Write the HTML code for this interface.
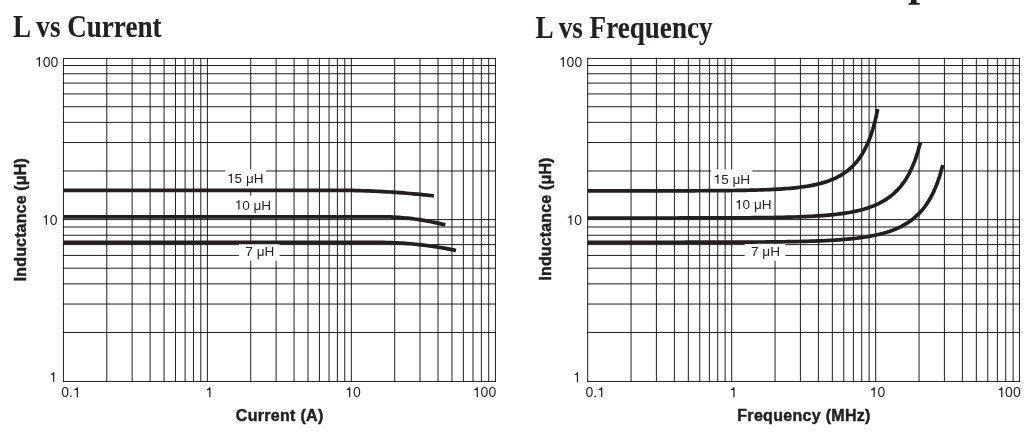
<!DOCTYPE html>
<html><head><meta charset="utf-8"><style>
html,body{margin:0;padding:0;background:#fff;width:1033px;height:447px;overflow:hidden}
svg{position:absolute;left:0;top:0;display:block}
text{fill:#231f20}
</style></head><body>
<svg width="1033" height="447" viewBox="0 0 1033 447">
<path d="M63.45 381.45H495.3 M63.45 332.48H495.3 M63.45 304.04H495.3 M63.45 283.87H495.3 M63.45 268.22H495.3 M63.45 255.43H495.3 M63.45 244.62H495.3 M63.45 235.25H495.3 M63.45 226.99H495.3 M63.45 219.6H495.3 M63.45 170.98H495.3 M63.45 142.54H495.3 M63.45 122.37H495.3 M63.45 106.72H495.3 M63.45 93.93H495.3 M63.45 83.12H495.3 M63.45 73.75H495.3 M63.45 65.49H495.3 M63.45 58.45H495.3" stroke="#231f20" stroke-width="1.0" fill="none" stroke-linecap="square"/><path d="M63.45 58.45V381.45 M106.78 58.45V381.45 M132.13 58.45V381.45 M150.12 58.45V381.45 M164.07 58.45V381.45 M175.46 58.45V381.45 M185.1 58.45V381.45 M193.45 58.45V381.45 M200.81 58.45V381.45 M207.4 58.45V381.45 M250.73 58.45V381.45 M276.08 58.45V381.45 M294.07 58.45V381.45 M308.02 58.45V381.45 M319.41 58.45V381.45 M329.05 58.45V381.45 M337.4 58.45V381.45 M344.76 58.45V381.45 M351.35 58.45V381.45 M394.68 58.45V381.45 M420.03 58.45V381.45 M438.02 58.45V381.45 M451.97 58.45V381.45 M463.36 58.45V381.45 M473 58.45V381.45 M481.35 58.45V381.45 M488.71 58.45V381.45 M495.45 58.45V381.45" stroke="#231f20" stroke-width="1.0" fill="none" stroke-linecap="square" style="mix-blend-mode:multiply"/>
<path d="M587.7 381.45H1019.7 M587.7 332.48H1019.7 M587.7 304.04H1019.7 M587.7 283.87H1019.7 M587.7 268.22H1019.7 M587.7 255.43H1019.7 M587.7 244.62H1019.7 M587.7 235.25H1019.7 M587.7 226.99H1019.7 M587.7 219.6H1019.7 M587.7 170.98H1019.7 M587.7 142.54H1019.7 M587.7 122.37H1019.7 M587.7 106.72H1019.7 M587.7 93.93H1019.7 M587.7 83.12H1019.7 M587.7 73.75H1019.7 M587.7 65.49H1019.7 M587.7 58.45H1019.7" stroke="#231f20" stroke-width="1.0" fill="none" stroke-linecap="square"/><path d="M587.7 58.45V381.45 M631.05 58.45V381.45 M656.41 58.45V381.45 M674.4 58.45V381.45 M688.35 58.45V381.45 M699.75 58.45V381.45 M709.39 58.45V381.45 M717.74 58.45V381.45 M725.11 58.45V381.45 M731.7 58.45V381.45 M775.05 58.45V381.45 M800.41 58.45V381.45 M818.4 58.45V381.45 M832.35 58.45V381.45 M843.75 58.45V381.45 M853.39 58.45V381.45 M861.74 58.45V381.45 M869.11 58.45V381.45 M875.7 58.45V381.45 M919.05 58.45V381.45 M944.41 58.45V381.45 M962.4 58.45V381.45 M976.35 58.45V381.45 M987.75 58.45V381.45 M997.39 58.45V381.45 M1005.74 58.45V381.45 M1013.11 58.45V381.45 M1019.45 58.45V381.45" stroke="#231f20" stroke-width="1.0" fill="none" stroke-linecap="square" style="mix-blend-mode:multiply"/>
<rect x="224.9" y="169.5" width="41.3" height="19" fill="#fff"/>
<rect x="232" y="195.7" width="42" height="19.3" fill="#fff"/>
<rect x="238.8" y="244" width="40.7" height="16.8" fill="#fff"/>
<rect x="711" y="169.5" width="41.3" height="19.5" fill="#fff"/>
<rect x="732.5" y="195.7" width="41.3" height="20.3" fill="#fff"/>
<rect x="744.6" y="244.1" width="40.8" height="16.6" fill="#fff"/>
<path d="M63.45 190.3 L335.2 190.3 L338.6 190.31 L342.01 190.33 L345.41 190.36 L348.81 190.41 L352.22 190.47 L355.62 190.54 L359.02 190.63 L362.43 190.73 L365.83 190.84 L369.23 190.97 L372.64 191.11 L376.04 191.26 L379.44 191.43 L382.85 191.61 L386.25 191.8 L389.66 192.01 L393.06 192.22 L396.46 192.46 L399.87 192.7 L403.27 192.96 L406.67 193.24 L410.08 193.52 L413.48 193.82 L416.88 194.14 L420.29 194.46 L423.69 194.8 L427.09 195.16 L430.5 195.52 L433.9 195.9" stroke="#231f20" stroke-width="3.7" fill="none" stroke-linejoin="round"/>
<path d="M63.45 216.8 L381.4 216.8 L383.6 216.81 L385.81 216.84 L388.01 216.89 L390.21 216.96 L392.42 217.04 L394.62 217.15 L396.82 217.28 L399.03 217.42 L401.23 217.59 L403.43 217.77 L405.64 217.97 L407.84 218.2 L410.04 218.44 L412.25 218.7 L414.45 218.98 L416.66 219.29 L418.86 219.61 L421.06 219.95 L423.27 220.31 L425.47 220.68 L427.67 221.08 L429.88 221.5 L432.08 221.94 L434.28 222.39 L436.49 222.87 L438.69 223.36 L440.89 223.88 L443.1 224.41 L445.3 224.97" stroke="#231f20" stroke-width="3.7" fill="none" stroke-linejoin="round"/>
<path d="M63.45 242.4 L378.2 242.4 L380.88 242.41 L383.57 242.44 L386.25 242.49 L388.93 242.55 L391.61 242.64 L394.3 242.74 L396.98 242.87 L399.66 243.01 L402.34 243.18 L405.03 243.36 L407.71 243.56 L410.39 243.78 L413.08 244.02 L415.76 244.28 L418.44 244.55 L421.12 244.85 L423.81 245.17 L426.49 245.5 L429.17 245.86 L431.86 246.23 L434.54 246.62 L437.22 247.03 L439.9 247.46 L442.59 247.91 L445.27 248.38 L447.95 248.87 L450.63 249.38 L453.32 249.9 L456 250.45" stroke="#231f20" stroke-width="3.7" fill="none" stroke-linejoin="round"/>
<path d="M587.7 190.88 L590.14 190.88 L592.57 190.88 L595.01 190.88 L597.45 190.88 L599.88 190.88 L602.32 190.88 L604.76 190.88 L607.2 190.88 L609.63 190.88 L612.07 190.87 L614.51 190.87 L616.94 190.87 L619.38 190.87 L621.82 190.87 L624.25 190.87 L626.69 190.87 L629.13 190.87 L631.57 190.87 L634 190.87 L636.44 190.87 L638.88 190.87 L641.31 190.86 L643.75 190.86 L646.19 190.86 L648.62 190.86 L651.06 190.86 L653.5 190.86 L655.94 190.85 L658.37 190.85 L660.81 190.85 L663.25 190.85 L665.68 190.84 L668.12 190.84 L670.56 190.84 L672.99 190.83 L675.43 190.83 L677.87 190.82 L680.31 190.82 L682.74 190.81 L685.18 190.81 L687.62 190.8 L690.05 190.79 L692.49 190.79 L694.93 190.78 L697.36 190.77 L699.8 190.76 L702.24 190.75 L704.67 190.74 L707.11 190.72 L709.55 190.71 L711.99 190.7 L714.42 190.68 L716.86 190.66 L719.3 190.64 L721.73 190.62 L724.17 190.6 L726.61 190.58 L729.04 190.55 L731.48 190.52 L733.92 190.49 L736.36 190.46 L738.79 190.42 L741.23 190.39 L743.67 190.34 L746.1 190.3 L748.54 190.25 L750.98 190.19 L753.41 190.13 L755.85 190.07 L758.29 190 L760.73 189.92 L763.16 189.84 L765.6 189.75 L768.04 189.65 L770.47 189.55 L772.91 189.43 L775.35 189.31 L777.78 189.17 L780.22 189.03 L782.66 188.87 L785.09 188.69 L787.53 188.5 L789.97 188.3 L792.41 188.07 L794.84 187.82 L797.28 187.56 L799.72 187.27 L802.15 186.95 L804.59 186.6 L807.03 186.23 L809.46 185.82 L811.9 185.37 L814.34 184.88 L816.78 184.34 L819.21 183.75 L821.65 183.11 L824.09 182.4 L826.52 181.63 L828.96 180.78 L831.4 179.85 L833.83 178.83 L836.27 177.7 L838.71 176.45 L841.15 175.07 L843.58 173.54 L846.02 171.84 L848.46 169.95 L850.89 167.84 L853.33 165.47 L855.77 162.81 L858.2 159.8 L860.64 156.39 L863.08 152.48 L865.52 147.98 L867.95 142.74 L870.39 136.58 L872.83 129.22 L875.26 120.24 L877.7 108.99" stroke="#231f20" stroke-width="3.7" fill="none" stroke-linejoin="round"/>
<path d="M587.7 218 L590.5 218 L593.29 218 L596.09 218 L598.89 218 L601.68 218 L604.48 218 L607.28 218 L610.07 218 L612.87 218 L615.67 218 L618.46 218 L621.26 218 L624.06 218 L626.85 218 L629.65 218 L632.45 218 L635.24 218 L638.04 218 L640.84 218 L643.63 217.99 L646.43 217.99 L649.23 217.99 L652.02 217.99 L654.82 217.99 L657.62 217.99 L660.41 217.99 L663.21 217.99 L666.01 217.98 L668.8 217.98 L671.6 217.98 L674.4 217.98 L677.19 217.98 L679.99 217.97 L682.79 217.97 L685.58 217.97 L688.38 217.96 L691.18 217.96 L693.97 217.96 L696.77 217.95 L699.57 217.95 L702.36 217.94 L705.16 217.94 L707.96 217.93 L710.75 217.93 L713.55 217.92 L716.35 217.91 L719.14 217.9 L721.94 217.89 L724.74 217.88 L727.53 217.87 L730.33 217.86 L733.13 217.85 L735.92 217.83 L738.72 217.82 L741.52 217.8 L744.31 217.78 L747.11 217.77 L749.91 217.74 L752.7 217.72 L755.5 217.7 L758.29 217.67 L761.09 217.64 L763.89 217.61 L766.68 217.57 L769.48 217.53 L772.28 217.49 L775.07 217.44 L777.87 217.39 L780.67 217.34 L783.46 217.28 L786.26 217.21 L789.06 217.14 L791.85 217.07 L794.65 216.98 L797.45 216.89 L800.24 216.79 L803.04 216.68 L805.84 216.56 L808.63 216.44 L811.43 216.29 L814.23 216.14 L817.02 215.97 L819.82 215.79 L822.62 215.59 L825.41 215.37 L828.21 215.13 L831.01 214.87 L833.8 214.59 L836.6 214.28 L839.4 213.94 L842.19 213.57 L844.99 213.16 L847.79 212.71 L850.58 212.22 L853.38 211.68 L856.18 211.1 L858.97 210.45 L861.77 209.74 L864.57 208.96 L867.36 208.09 L870.16 207.14 L872.96 206.09 L875.75 204.93 L878.55 203.65 L881.35 202.22 L884.14 200.63 L886.94 198.86 L889.74 196.88 L892.53 194.66 L895.33 192.16 L898.13 189.33 L900.92 186.12 L903.72 182.45 L906.52 178.21 L909.31 173.3 L912.11 167.52 L914.91 160.63 L917.7 152.28 L920.5 141.9" stroke="#231f20" stroke-width="3.7" fill="none" stroke-linejoin="round"/>
<path d="M587.7 242.25 L590.68 242.25 L593.67 242.25 L596.65 242.25 L599.64 242.25 L602.62 242.25 L605.6 242.25 L608.59 242.25 L611.57 242.25 L614.56 242.25 L617.54 242.25 L620.52 242.25 L623.51 242.25 L626.49 242.25 L629.48 242.25 L632.46 242.25 L635.44 242.25 L638.43 242.24 L641.41 242.24 L644.4 242.24 L647.38 242.24 L650.36 242.24 L653.35 242.24 L656.33 242.24 L659.32 242.24 L662.3 242.24 L665.28 242.24 L668.27 242.23 L671.25 242.23 L674.24 242.23 L677.22 242.23 L680.21 242.23 L683.19 242.23 L686.17 242.22 L689.16 242.22 L692.14 242.22 L695.13 242.21 L698.11 242.21 L701.09 242.21 L704.08 242.2 L707.06 242.2 L710.05 242.19 L713.03 242.19 L716.01 242.18 L719 242.18 L721.98 242.17 L724.97 242.16 L727.95 242.16 L730.93 242.15 L733.92 242.14 L736.9 242.13 L739.89 242.12 L742.87 242.1 L745.85 242.09 L748.84 242.08 L751.82 242.06 L754.81 242.04 L757.79 242.02 L760.77 242 L763.76 241.98 L766.74 241.96 L769.73 241.93 L772.71 241.9 L775.69 241.87 L778.68 241.84 L781.66 241.8 L784.65 241.76 L787.63 241.71 L790.61 241.66 L793.6 241.61 L796.58 241.55 L799.57 241.49 L802.55 241.42 L805.53 241.35 L808.52 241.26 L811.5 241.17 L814.49 241.08 L817.47 240.97 L820.45 240.85 L823.44 240.73 L826.42 240.59 L829.41 240.44 L832.39 240.27 L835.37 240.09 L838.36 239.9 L841.34 239.68 L844.33 239.45 L847.31 239.19 L850.29 238.91 L853.28 238.6 L856.26 238.26 L859.25 237.89 L862.23 237.49 L865.22 237.04 L868.2 236.56 L871.18 236.02 L874.17 235.44 L877.15 234.79 L880.14 234.08 L883.12 233.3 L886.1 232.44 L889.09 231.49 L892.07 230.44 L895.06 229.27 L898.04 227.98 L901.02 226.55 L904.01 224.95 L906.99 223.17 L909.98 221.18 L912.96 218.94 L915.94 216.41 L918.93 213.55 L921.91 210.3 L924.9 206.57 L927.88 202.27 L930.86 197.26 L933.85 191.37 L936.83 184.32 L939.82 175.74 L942.8 165.01" stroke="#231f20" stroke-width="3.7" fill="none" stroke-linejoin="round"/>
<path d="M911 0H916.5V2.6C917.5 2.9 919 3.1 919.8 3.4V4.8H908.4V3.4C909.2 3.1 910.3 2.9 911 2.6Z" fill="#231f20"/>
<text x="34.94" y="66.6" font-family="Liberation Sans" font-size="14" xml:space="preserve">&#x2007;00</text>
<path d="M740 0H560V1040H215V1165C420 1175 525 1250 562 1409H740Z" transform="translate(34.94 66.6) scale(0.006836 -0.006836)" fill="#231f20"/>
<text x="41.93" y="224.7" font-family="Liberation Sans" font-size="14" xml:space="preserve">&#x2007;0</text>
<path d="M740 0H560V1040H215V1165C420 1175 525 1250 562 1409H740Z" transform="translate(41.93 224.7) scale(0.006836 -0.006836)" fill="#231f20"/>
<text x="49.21" y="381.8" font-family="Liberation Sans" font-size="14" xml:space="preserve">&#x2007;</text>
<path d="M740 0H560V1040H215V1165C420 1175 525 1250 562 1409H740Z" transform="translate(49.21 381.8) scale(0.006836 -0.006836)" fill="#231f20"/>
<text x="558.84" y="66.7" font-family="Liberation Sans" font-size="14" xml:space="preserve">&#x2007;00</text>
<path d="M740 0H560V1040H215V1165C420 1175 525 1250 562 1409H740Z" transform="translate(558.84 66.7) scale(0.006836 -0.006836)" fill="#231f20"/>
<text x="566.43" y="224.8" font-family="Liberation Sans" font-size="14" xml:space="preserve">&#x2007;0</text>
<path d="M740 0H560V1040H215V1165C420 1175 525 1250 562 1409H740Z" transform="translate(566.43 224.8) scale(0.006836 -0.006836)" fill="#231f20"/>
<text x="573.01" y="381.9" font-family="Liberation Sans" font-size="14" xml:space="preserve">&#x2007;</text>
<path d="M740 0H560V1040H215V1165C420 1175 525 1250 562 1409H740Z" transform="translate(573.01 381.9) scale(0.006836 -0.006836)" fill="#231f20"/>
<text x="61.27" y="397" font-family="Liberation Sans" font-size="14" xml:space="preserve">0.&#x2007;</text>
<path d="M740 0H560V1040H215V1165C420 1175 525 1250 562 1409H740Z" transform="translate(72.94 397) scale(0.006836 -0.006836)" fill="#231f20"/>
<text x="205.41" y="397" font-family="Liberation Sans" font-size="14" xml:space="preserve">&#x2007;</text>
<path d="M740 0H560V1040H215V1165C420 1175 525 1250 562 1409H740Z" transform="translate(205.41 397) scale(0.006836 -0.006836)" fill="#231f20"/>
<text x="345.21" y="397" font-family="Liberation Sans" font-size="14" xml:space="preserve">&#x2007;0</text>
<path d="M740 0H560V1040H215V1165C420 1175 525 1250 562 1409H740Z" transform="translate(345.21 397) scale(0.006836 -0.006836)" fill="#231f20"/>
<text x="472.82" y="397" font-family="Liberation Sans" font-size="14" xml:space="preserve">&#x2007;00</text>
<path d="M740 0H560V1040H215V1165C420 1175 525 1250 562 1409H740Z" transform="translate(472.82 397) scale(0.006836 -0.006836)" fill="#231f20"/>
<text x="585.57" y="397" font-family="Liberation Sans" font-size="14" xml:space="preserve">0.&#x2007;</text>
<path d="M740 0H560V1040H215V1165C420 1175 525 1250 562 1409H740Z" transform="translate(597.24 397) scale(0.006836 -0.006836)" fill="#231f20"/>
<text x="729.51" y="397" font-family="Liberation Sans" font-size="14" xml:space="preserve">&#x2007;</text>
<path d="M740 0H560V1040H215V1165C420 1175 525 1250 562 1409H740Z" transform="translate(729.51 397) scale(0.006836 -0.006836)" fill="#231f20"/>
<text x="869.71" y="397" font-family="Liberation Sans" font-size="14" xml:space="preserve">&#x2007;0</text>
<path d="M740 0H560V1040H215V1165C420 1175 525 1250 562 1409H740Z" transform="translate(869.71 397) scale(0.006836 -0.006836)" fill="#231f20"/>
<text x="997.32" y="397" font-family="Liberation Sans" font-size="14" xml:space="preserve">&#x2007;00</text>
<path d="M740 0H560V1040H215V1165C420 1175 525 1250 562 1409H740Z" transform="translate(997.32 397) scale(0.006836 -0.006836)" fill="#231f20"/>
<text x="227" y="183" font-family="Liberation Sans" font-size="13.6" xml:space="preserve">&#x2007;5 μH</text>
<path d="M740 0H560V1040H215V1165C420 1175 525 1250 562 1409H740Z" transform="translate(227 183) scale(0.006641 -0.006641)" fill="#231f20"/>
<text x="234.6" y="209.5" font-family="Liberation Sans" font-size="13.6" xml:space="preserve">&#x2007;0 μH</text>
<path d="M740 0H560V1040H215V1165C420 1175 525 1250 562 1409H740Z" transform="translate(234.6 209.5) scale(0.006641 -0.006641)" fill="#231f20"/>
<text x="245.3" y="255.9" font-family="Liberation Sans" font-size="13.6" xml:space="preserve">7 μH</text>
<text x="713.6" y="183.8" font-family="Liberation Sans" font-size="13.6" xml:space="preserve">&#x2007;5 μH</text>
<path d="M740 0H560V1040H215V1165C420 1175 525 1250 562 1409H740Z" transform="translate(713.6 183.8) scale(0.006641 -0.006641)" fill="#231f20"/>
<text x="735" y="209.3" font-family="Liberation Sans" font-size="13.6" xml:space="preserve">&#x2007;0 μH</text>
<path d="M740 0H560V1040H215V1165C420 1175 525 1250 562 1409H740Z" transform="translate(735 209.3) scale(0.006641 -0.006641)" fill="#231f20"/>
<text x="751" y="255.7" font-family="Liberation Sans" font-size="13.6" xml:space="preserve">7 μH</text>
<text x="279.7" y="420.7" font-family="Liberation Sans" font-size="16" font-weight="bold" text-anchor="middle" letter-spacing="0.3" stroke="#231f20" stroke-width="0.45">Current (A)</text>
<text x="804" y="420.5" font-family="Liberation Sans" font-size="16" font-weight="bold" text-anchor="middle" letter-spacing="0.3" stroke="#231f20" stroke-width="0.45">Frequency (MHz)</text>
<text transform="translate(26.1 219.7) rotate(-90)" font-family="Liberation Sans" font-size="16" font-weight="bold" text-anchor="middle" letter-spacing="0.15" stroke="#231f20" stroke-width="0.45">Inductance (μH)</text>
<text transform="translate(551 219) rotate(-90)" font-family="Liberation Sans" font-size="16" font-weight="bold" text-anchor="middle" letter-spacing="0.15" stroke="#231f20" stroke-width="0.45">Inductance (μH)</text>
<text transform="translate(13 37.3) scale(0.847 1)" font-family="Liberation Serif" font-size="32" font-weight="bold" stroke="#231f20" stroke-width="0.1">L vs Current</text>
<text transform="translate(535.4 37.5) scale(0.847 1)" font-family="Liberation Serif" font-size="32" font-weight="bold" stroke="#231f20" stroke-width="0.1">L vs Frequency</text>
</svg>
</body></html>
